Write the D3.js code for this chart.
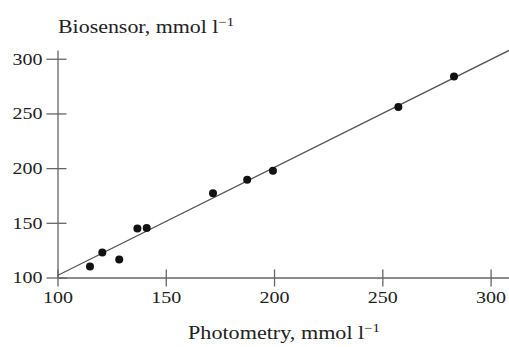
<!DOCTYPE html>
<html>
<head>
<meta charset="utf-8">
<script src="https://cdn.jsdelivr.net/npm/d3@7"></script>
<style>
  body { margin: 0; background: #fff; }
  text { font-family: "Liberation Serif", "DejaVu Serif", serif; fill: #222; }
</style>
</head>
<body>
<script>
// photometry vs biosensor readings (mmol l-1)
var photometry = [115, 120.7, 128.5, 136.9, 141.2, 171.8, 187.6, 199.5, 257.4, 283.1];
var biosensor  = [110.1, 122.9, 116.5, 144.7, 145.2, 177.1, 189.4, 197.5, 256, 283.8];

// fitted line end points
var fitX = [100, 308.5];
var fitY = [101.8, 307.6];

var xTicks = [100, 150, 200, 250, 300];
var yTicks = [100, 150, 200, 250, 300];

var width = 509, height = 347;

var xScale = d3.scaleLinear().domain([100, 308.5]).range([57.5, 509]);
var yScale = d3.scaleLinear().domain([100, 308]).range([277.5, 50]);

var svg = d3.select("body").append("svg")
    .attr("width", width)
    .attr("height", height);

// x axis
var xAxis = d3.axisBottom(xScale)
    .tickValues(xTicks)
    .tickSizeInner(9)
    .tickSizeOuter(0)
    .tickPadding(4)
    .tickFormat(d3.format("d"));

var gx = svg.append("g")
    .attr("transform", "translate(0," + yScale(100) + ")")
    .call(xAxis);
gx.selectAll("line").attr("y1", -8);

// y axis
var yAxis = d3.axisLeft(yScale)
    .tickValues(yTicks)
    .tickSizeInner(11)
    .tickSizeOuter(0)
    .tickPadding(4)
    .tickFormat(d3.format("d"));

var gy = svg.append("g")
    .attr("transform", "translate(" + xScale(100) + ",0)")
    .call(yAxis);
gy.selectAll("line").attr("x1", 9);

svg.selectAll(".domain, .tick line")
    .attr("stroke", "#666")
    .attr("stroke-width", 1.3);

// scanned lettering is wider than the font, so stretch it a little
svg.selectAll(".tick text")
    .style("font-family", "Liberation Serif")
    .style("font-size", "17px")
    .attr("fill", "#222")
    .attr("textLength", 30)
    .attr("lengthAdjust", "spacingAndGlyphs");

// fitted line
svg.append("line")
    .attr("x1", xScale(fitX[0]))
    .attr("y1", yScale(fitY[0]))
    .attr("x2", xScale(fitX[1]))
    .attr("y2", yScale(fitY[1]))
    .attr("stroke", "#555")
    .attr("stroke-width", 1.3);

// points
var pts = photometry.map(function(d, i) { return {x: d, y: biosensor[i]}; });
svg.selectAll(".dot")
    .data(pts)
    .enter().append("circle")
    .attr("class", "dot")
    .attr("cx", function(d) { return xScale(d.x); })
    .attr("cy", function(d) { return yScale(d.y); })
    .attr("r", 4)
    .attr("fill", "#111");

// axis titles
var yTitle = svg.append("text")
    .attr("x", 58)
    .attr("y", 33)
    .attr("textLength", 176)
    .attr("lengthAdjust", "spacingAndGlyphs")
    .style("font-size", "18px");
yTitle.append("tspan").text("Biosensor, mmol l");
yTitle.append("tspan").attr("dy", -7).style("font-size", "12px").text("\u22121");

var xTitle = svg.append("text")
    .attr("x", 188)
    .attr("y", 339)
    .attr("textLength", 192)
    .attr("lengthAdjust", "spacingAndGlyphs")
    .style("font-size", "18px");
xTitle.append("tspan").text("Photometry, mmol l");
xTitle.append("tspan").attr("dy", -7).style("font-size", "12px").text("\u22121");
</script>
</body>
</html>
